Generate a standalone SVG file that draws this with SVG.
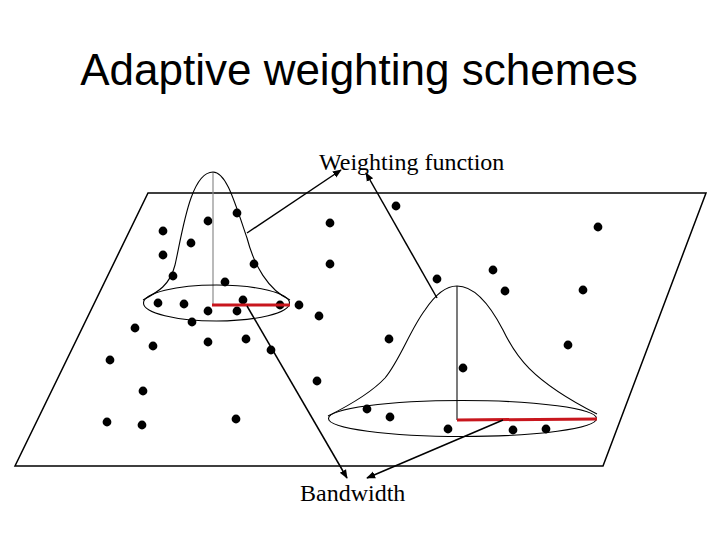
<svg xmlns="http://www.w3.org/2000/svg" width="720" height="540" viewBox="0 0 720 540">
<defs>
<style>
.title{font-family:"Liberation Sans",Arial,sans-serif;font-size:44px;fill:#000}
.lbl{font-family:"Liberation Serif","Times New Roman",serif;font-size:24px;fill:#000}
.plane{fill:none;stroke:#000;stroke-width:1.5}
.bell{fill:none;stroke:#000;stroke-width:1.1}
.axis{stroke-width:1.2}
.bw{stroke:#c8161d;stroke-width:3;stroke-linecap:butt}
.dot{fill:#000}
.arr{stroke:#000;stroke-width:1.5;fill:none;marker-end:url(#ah)}
</style>
<marker id="ah" viewBox="0 0 10 10" refX="9" refY="5" markerWidth="6" markerHeight="6" orient="auto" markerUnits="strokeWidth">
<path d="M0,1 L10,5 L0,9 Z" fill="#000"/>
</marker>
</defs>
<rect width="720" height="540" fill="#fff"/>
<text class="title" x="359" y="85" text-anchor="middle">Adaptive weighting schemes</text>
<g id="plane">
<polygon class="plane" points="148,193 706,193 603,466 15,466"/>
</g>
<g id="points">
<circle class="dot" cx="237" cy="213" r="4.4"/>
<circle class="dot" cx="208" cy="221" r="4.4"/>
<circle class="dot" cx="163" cy="231" r="4.4"/>
<circle class="dot" cx="191" cy="243" r="4.4"/>
<circle class="dot" cx="163" cy="255" r="4.4"/>
<circle class="dot" cx="254" cy="264" r="4.4"/>
<circle class="dot" cx="173" cy="276" r="4.4"/>
<circle class="dot" cx="225" cy="282" r="4.4"/>
<circle class="dot" cx="158" cy="303" r="4.4"/>
<circle class="dot" cx="184" cy="304" r="4.4"/>
<circle class="dot" cx="208" cy="311" r="4.4"/>
<circle class="dot" cx="237" cy="311" r="4.4"/>
<circle class="dot" cx="243" cy="300" r="4.4"/>
<circle class="dot" cx="280" cy="305" r="4.4"/>
<circle class="dot" cx="299" cy="305" r="4.4"/>
<circle class="dot" cx="319" cy="316" r="4.4"/>
<circle class="dot" cx="192" cy="322" r="4.4"/>
<circle class="dot" cx="135" cy="328" r="4.4"/>
<circle class="dot" cx="153" cy="346" r="4.4"/>
<circle class="dot" cx="208" cy="342" r="4.4"/>
<circle class="dot" cx="246" cy="339" r="4.4"/>
<circle class="dot" cx="271" cy="350" r="4.4"/>
<circle class="dot" cx="110" cy="360" r="4.4"/>
<circle class="dot" cx="143" cy="391" r="4.4"/>
<circle class="dot" cx="107" cy="422" r="4.4"/>
<circle class="dot" cx="142" cy="425" r="4.4"/>
<circle class="dot" cx="236" cy="419" r="4.4"/>
<circle class="dot" cx="317" cy="381" r="4.4"/>
<circle class="dot" cx="330" cy="223" r="4.4"/>
<circle class="dot" cx="330" cy="264" r="4.4"/>
<circle class="dot" cx="396" cy="206" r="4.4"/>
<circle class="dot" cx="437" cy="279" r="4.4"/>
<circle class="dot" cx="493" cy="270" r="4.4"/>
<circle class="dot" cx="505" cy="291" r="4.4"/>
<circle class="dot" cx="583" cy="290" r="4.4"/>
<circle class="dot" cx="598" cy="227" r="4.4"/>
<circle class="dot" cx="389" cy="339" r="4.4"/>
<circle class="dot" cx="568" cy="345" r="4.4"/>
<circle class="dot" cx="463" cy="368" r="4.4"/>
<circle class="dot" cx="367" cy="409" r="4.4"/>
<circle class="dot" cx="390" cy="417" r="4.4"/>
<circle class="dot" cx="448" cy="429" r="4.4"/>
<circle class="dot" cx="513" cy="430" r="4.4"/>
<circle class="dot" cx="546" cy="429" r="4.4"/>
</g>
<g id="kernel-left">
<line class="axis" x1="213" y1="172" x2="213" y2="305" stroke="#8c8c8c"/>
<path class="bell" d="M143,300 C158,292 170,285 175,265 C182,235 190,172 213,172 C226,172 234,200 247,238 C254,265 268,290 290,300"/>
<ellipse class="bell" cx="216.5" cy="303" rx="73" ry="18"/>
<line class="bw" x1="212" y1="305" x2="290" y2="305"/>
</g>
<g id="kernel-right">
<line class="axis" x1="457" y1="286" x2="457" y2="420" stroke="#222"/>
<path class="bell" d="M328,416 C350,405 372,392 385,378 C400,360 410,330 425,310 C435,295 445,286 457,286 C475,286 490,305 503,330 C515,355 530,380 597,414"/>
<ellipse class="bell" cx="462.5" cy="418.5" rx="134" ry="18"/>
<line class="bw" x1="457" y1="420" x2="597" y2="419"/>
</g>
<g id="label-weighting">
<text class="lbl" x="319" y="170">Weighting function</text>
</g>
<g id="label-bandwidth">
<text class="lbl" x="300" y="501">Bandwidth</text>
</g>
<g id="connectors">
<line class="arr" x1="247" y1="233" x2="341" y2="170"/>
<line class="arr" x1="437" y1="298" x2="366" y2="173"/>
<line class="arr" x1="247" y1="306" x2="347" y2="478"/>
<line class="arr" x1="503" y1="420" x2="367" y2="478"/>
</g>
</svg>
